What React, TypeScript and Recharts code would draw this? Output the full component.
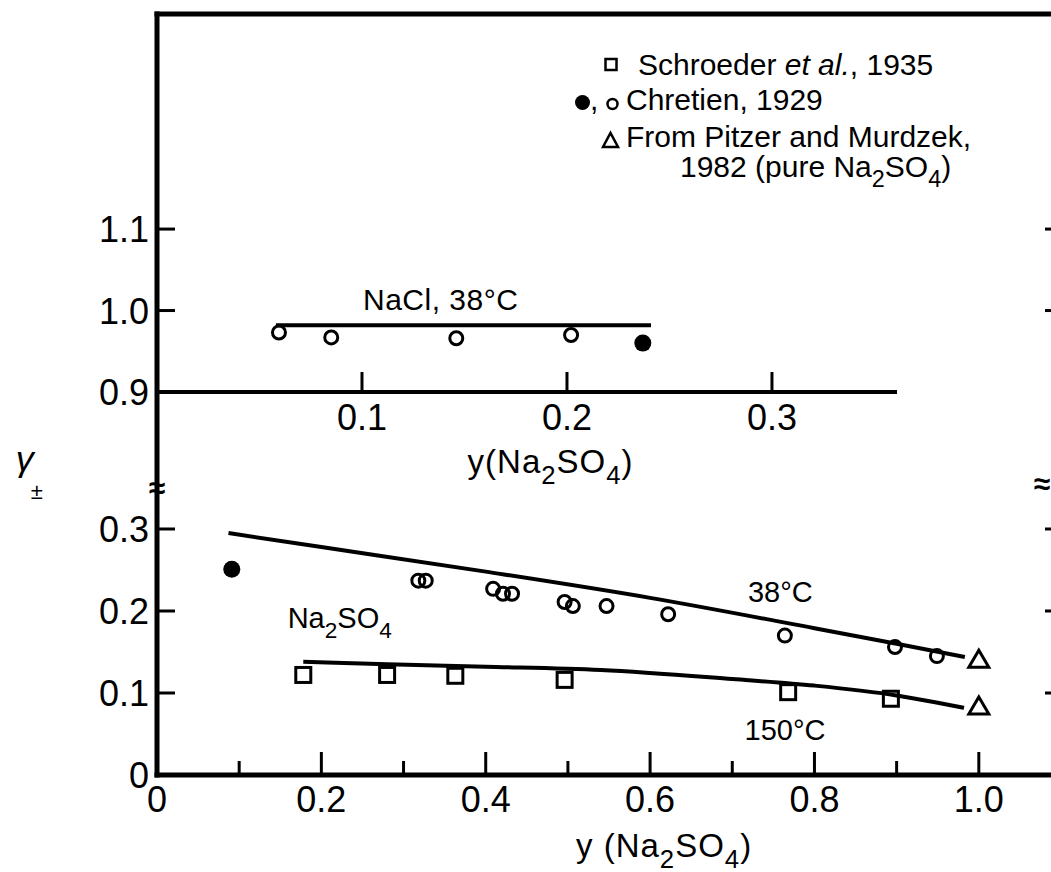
import React from 'react';
import {
  ComposedChart,
  Legend,
  Line,
  ReferenceDot,
  ReferenceLine,
  Scatter,
  XAxis,
  YAxis,
} from 'recharts';

const FONT = "'Liberation Sans', Arial, sans-serif";
const INK = '#000';
const W = 1080;
const H = 872;

// lower panel: Na2SO4
const chretien38X = [0.318, 0.327, 0.409, 0.421, 0.432, 0.496, 0.506, 0.547, 0.622, 0.764, 0.898, 0.949];
const chretien38Y = [0.237, 0.237, 0.227, 0.221, 0.221, 0.211, 0.206, 0.206, 0.196, 0.17, 0.156, 0.145];
const chretienFilledX = [0.091];
const chretienFilledY = [0.251];
const schroederX = [0.178, 0.28, 0.363, 0.496, 0.768, 0.893];
const schroederY = [0.122, 0.122, 0.121, 0.116, 0.101, 0.093];
const pitzerX = [1.0, 1.0];
const pitzerY = [0.14, 0.083];
const curve38X = [0.087, 0.2, 0.4, 0.6, 0.8, 0.9, 0.983];
const curve38Y = [0.295, 0.278, 0.248, 0.216, 0.179, 0.16, 0.144];
const curve150X = [0.178, 0.28, 0.4, 0.54, 0.7, 0.8, 0.9, 0.95, 0.982];
const curve150Y = [0.138, 0.135, 0.132, 0.128, 0.117, 0.109, 0.097, 0.088, 0.082];

// upper panel: NaCl, 38 C
const naclOpenX = [0.0595, 0.085, 0.146, 0.202];
const naclOpenY = [0.973, 0.967, 0.966, 0.97];
const naclFilledX = [0.237];
const naclFilledY = [0.96];
const naclCurveX = [0.058, 0.241];
const naclCurveY = [0.982, 0.982];

const lowerXTicks = [0, 0.1, 0.2, 0.3, 0.4, 0.5, 0.6, 0.7, 0.8, 0.9, 1.0];
const lowerYTicks = [0, 0.1, 0.2, 0.3];
const upperXTicks = [0.1, 0.2, 0.3];
const upperYTicks = [0.9, 1.0, 1.1];
const upperRightTicks = [1.0, 1.1];

const pts = (xs: number[], ys: number[]) => xs.map((x, i) => ({ x, y: ys[i] }));

const fmt = (v: number) => (v === 0 ? '0' : v.toFixed(1));

type Piece = [string, boolean?];
const NA2SO4: Piece[] = [['Na'], ['2', true], ['SO'], ['4', true]];

function Chem({ x, y, pieces, size = 30, anchor = 'start', spacing = 0 }: any) {
  const drop = size * 0.33;
  let down = false;
  return (
    <text x={x} y={y} fontSize={size} fontFamily={FONT} fill={INK} textAnchor={anchor} letterSpacing={spacing}>
      {pieces.map(([t, sub]: Piece, i: number) => {
        let dy = 0;
        if (sub && !down) {
          dy = drop;
          down = true;
        } else if (!sub && down) {
          dy = -drop;
          down = false;
        }
        return (
          <tspan key={i} dy={dy} fontSize={sub ? size * 0.78 : size} fontStyle={t === 'et al.' ? 'italic' : undefined}>
            {t}
          </tspan>
        );
      })}
    </text>
  );
}

function LowerXTick({ x, y, payload }: any) {
  const v = payload.value;
  const major = Math.round(v * 10) % 2 === 0;
  return (
    <g>
      {v > 0 && <line x1={x} x2={x} y1={y} y2={y - (major ? 23 : 14)} stroke={INK} strokeWidth={3} />}
      {major && (
        <text x={x} y={y + 37} textAnchor="middle" fontSize={36} fontFamily={FONT} fill={INK}>
          {fmt(v)}
        </text>
      )}
    </g>
  );
}

function UpperXTick({ x, y, payload }: any) {
  return (
    <g>
      <line x1={x} x2={x} y1={y} y2={y - 20} stroke={INK} strokeWidth={3} />
      <text x={x} y={y + 38} textAnchor="middle" fontSize={36} fontFamily={FONT} fill={INK}>
        {fmt(payload.value)}
      </text>
    </g>
  );
}

function LeftTick({ x, y, payload }: any) {
  const v = payload.value;
  const bare = v === 0 || v === 0.9;
  return (
    <g>
      {!bare && <line x1={x} x2={x + 18} y1={y} y2={y} stroke={INK} strokeWidth={3} />}
      <text x={x - 8} y={y + 13} textAnchor="end" fontSize={36} fontFamily={FONT} fill={INK}>
        {fmt(v)}
      </text>
    </g>
  );
}

function RightTick({ x, y }: any) {
  return <line x1={x} x2={x - 16} y1={y} y2={y} stroke={INK} strokeWidth={3} />;
}

const openCircle = (r: number) => (p: any) => (
  <circle cx={p.cx} cy={p.cy} r={r} fill="none" stroke={INK} strokeWidth={3} />
);
const filledCircle = (r: number) => (p: any) => <circle cx={p.cx} cy={p.cy} r={r} fill={INK} />;
const square = (p: any) => (
  <rect x={p.cx - 7.5} y={p.cy - 7.5} width={15} height={15} fill="none" stroke={INK} strokeWidth={3} />
);
const triangle = (p: any) => (
  <path
    d={`M${p.cx - 10},${p.cy + 7} L${p.cx + 10},${p.cy + 7} L${p.cx},${p.cy - 10} Z`}
    fill="none"
    stroke={INK}
    strokeWidth={3}
    strokeLinejoin="miter"
  />
);

const textAt = (pieces: Piece[], size = 30, anchor = 'start', spacing = 0) => (p: any) => (
  <Chem x={p.cx} y={p.cy} pieces={pieces} size={size} anchor={anchor} spacing={spacing} />
);

const breakMark = (p: any) => (
  <text x={p.cx} y={p.cy} textAnchor="middle" dominantBaseline="central" fontSize={30} fontWeight="bold" fontFamily={FONT} fill={INK}>
    ≈
  </text>
);

const gammaMark = (p: any) => (
  <g fontFamily={FONT} fill={INK}>
    <text x={p.cx} y={p.cy - 6} textAnchor="middle" fontSize={36} fontStyle="italic">
      γ
    </text>
    <text x={p.cx + 12} y={p.cy + 22} textAnchor="middle" fontSize={22}>
      ±
    </text>
  </g>
);

function LegendBox() {
  return (
    <svg width={480} height={160} style={{ overflow: 'visible' }}>
      <rect x={45.5} y={19} width={11} height={11} fill="none" stroke={INK} strokeWidth={2.5} />
      <Chem x={78} y={35} size={30} pieces={[['Schroeder '], ['et al.'], [', 1935']]} />
      <circle cx={22.5} cy={62.5} r={7.5} fill={INK} />
      <Chem x={30} y={70} size={30} pieces={[[',']]} />
      <circle cx={52.5} cy={64} r={5} fill="none" stroke={INK} strokeWidth={2.5} />
      <Chem x={66} y={70} size={30} pieces={[['Chretien, 1929']]} />
      <path d="M43,107 L58,107 L50.5,93 Z" fill="none" stroke={INK} strokeWidth={2.5} />
      <Chem x={66} y={107} size={30} pieces={[['From Pitzer and Murdzek,']]} />
      <Chem x={120} y={137} size={30} pieces={[['1982 (pure Na'], ['2', true], ['SO'], ['4', true], [')']]} />
    </svg>
  );
}

const axisStyle = { stroke: INK, strokeWidth: 5, strokeLinecap: 'square' as const };

export default function App() {
  return (
    <div
      style={{
        position: 'absolute',
        left: 0,
        top: 0,
        width: 1051,
        height: 872,
        overflow: 'hidden',
        background: '#fff',
        fontFamily: FONT,
      }}
    >
      {/* lower panel + frame */}
      <div style={{ position: 'absolute', left: 0, top: 0 }}>
        <ComposedChart width={W} height={H} margin={{ top: 0, right: 0, bottom: 0, left: 0 }}>
          <XAxis
            dataKey="x"
            type="number"
            domain={[0, 1.1]}
            ticks={lowerXTicks}
            interval={0}
            tickSize={0}
            tickMargin={0}
            tickLine={false}
            tick={LowerXTick}
            height={97}
            axisLine={axisStyle}
            allowDataOverflow
          />
          <XAxis
            xAxisId="frame"
            orientation="top"
            type="number"
            domain={[0, 1.1]}
            height={14}
            tick={false}
            tickLine={false}
            axisLine={axisStyle}
          />
          <YAxis
            type="number"
            domain={[0, 0.928]}
            ticks={lowerYTicks}
            interval={0}
            width={157}
            tickSize={0}
            tickMargin={0}
            tickLine={false}
            tick={LeftTick}
            axisLine={axisStyle}
            allowDataOverflow
          />
          <YAxis
            yAxisId="r"
            orientation="right"
            type="number"
            domain={[0, 0.928]}
            ticks={lowerYTicks.slice(1)}
            interval={0}
            width={19}
            tickSize={0}
            tickMargin={0}
            tickLine={false}
            tick={RightTick}
            axisLine={axisStyle}
            allowDataOverflow
          />
          <Line data={pts(curve38X, curve38Y)} dataKey="y" type="monotone" stroke={INK} strokeWidth={4} dot={false} activeDot={false} isAnimationActive={false} />
          <Line data={pts(curve150X, curve150Y)} dataKey="y" type="monotone" stroke={INK} strokeWidth={4} dot={false} activeDot={false} isAnimationActive={false} />
          <Scatter data={pts(chretien38X, chretien38Y)} dataKey="y" shape={openCircle(6.5)} isAnimationActive={false} />
          <Scatter data={pts(chretienFilledX, chretienFilledY)} dataKey="y" shape={filledCircle(8.5)} isAnimationActive={false} />
          <Scatter data={pts(schroederX, schroederY)} dataKey="y" shape={square} isAnimationActive={false} />
          <Scatter data={pts(pitzerX, pitzerY)} dataKey="y" shape={triangle} isAnimationActive={false} />
          <ReferenceDot x={0.719} y={0.211} r={0} ifOverflow="visible" shape={textAt([['38°C']], 29)} />
          <ReferenceDot x={0.715} y={0.043} r={0} ifOverflow="visible" shape={textAt([['150°C']], 29)} />
          <ReferenceDot x={0.159} y={0.179} r={0} ifOverflow="visible" shape={textAt(NA2SO4, 29)} />
          <ReferenceDot x={0} y={0.35} r={0} ifOverflow="visible" shape={breakMark} />
          <ReferenceDot x={1.077} y={0.355} r={0} ifOverflow="visible" shape={breakMark} />
          <ReferenceDot x={-0.161} y={0.363} r={0} ifOverflow="visible" shape={gammaMark} />
          <ReferenceDot
            x={0.617}
            y={-0.1}
            r={0}
            ifOverflow="visible"
            shape={textAt([['y (Na'], ['2', true], ['SO'], ['4', true], [')']], 33, 'middle', 1)}
          />
        </ComposedChart>
      </div>

      {/* upper panel: NaCl */}
      <div style={{ position: 'absolute', left: 0, top: 0 }}>
        <ComposedChart width={W} height={H} margin={{ top: 14, right: 0, bottom: 0, left: 0 }}>
          <XAxis
            dataKey="x"
            type="number"
            domain={[0, 0.441]}
            ticks={upperXTicks}
            interval={0}
            tickSize={0}
            tickMargin={0}
            tickLine={false}
            tick={UpperXTick}
            height={480}
            axisLine={false}
            allowDataOverflow
          />
          <YAxis
            type="number"
            domain={[0.9, 1.364]}
            ticks={upperYTicks}
            interval={0}
            width={157}
            tickSize={0}
            tickMargin={0}
            tickLine={false}
            tick={LeftTick}
            axisLine={false}
            allowDataOverflow
          />
          <YAxis
            yAxisId="r"
            orientation="right"
            type="number"
            domain={[0.9, 1.364]}
            ticks={upperRightTicks}
            interval={0}
            width={19}
            tickSize={0}
            tickMargin={0}
            tickLine={false}
            tick={RightTick}
            axisLine={false}
            allowDataOverflow
          />
          <ReferenceLine
            segment={[
              { x: 0, y: 0.9 },
              { x: 0.361, y: 0.9 },
            ]}
            stroke={INK}
            strokeWidth={4}
            ifOverflow="visible"
          />
          <Line data={pts(naclCurveX, naclCurveY)} dataKey="y" type="linear" stroke={INK} strokeWidth={4} dot={false} activeDot={false} isAnimationActive={false} />
          <Scatter data={pts(naclOpenX, naclOpenY)} dataKey="y" shape={openCircle(6.5)} isAnimationActive={false} />
          <Scatter data={pts(naclFilledX, naclFilledY)} dataKey="y" shape={filledCircle(8.5)} isAnimationActive={false} />
          <ReferenceDot x={0.1005} y={1.0006} r={0} ifOverflow="visible" shape={textAt([['NaCl, 38°C']], 30, 'start', 0.5)} />
          <ReferenceDot
            x={0.192}
            y={0.8006}
            r={0}
            ifOverflow="visible"
            shape={textAt([['y(Na'], ['2', true], ['SO'], ['4', true], [')']], 33, 'middle', 1)}
          />
          <Legend
            layout="vertical"
            align="center"
            verticalAlign="middle"
            content={() => <LegendBox />}
            wrapperStyle={{ position: 'absolute', left: 560, top: 40, width: 480, height: 160 }}
          />
        </ComposedChart>
      </div>
    </div>
  );
}
